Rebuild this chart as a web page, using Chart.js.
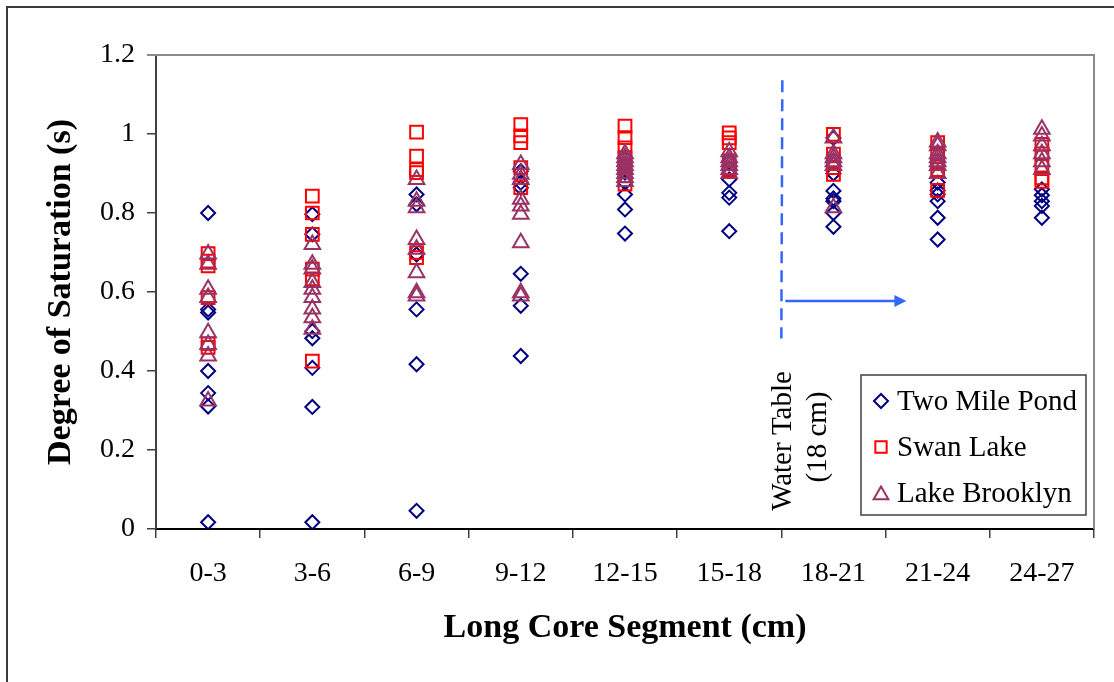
<!DOCTYPE html>
<html>
<head>
<meta charset="utf-8">
<title>Degree of Saturation by Long Core Segment</title>
<script src="https://cdn.jsdelivr.net/npm/chart.js@4.4.1/dist/chart.umd.min.js"></script>
<style>
  html, body { margin: 0; padding: 0; background: #fff; }
  #wrap { width: 1114px; height: 682px; position: relative; }
</style>
</head>
<body>
<div id="wrap"><canvas id="satChart" width="1114" height="682"></canvas></div>
<script>
const segments = ["0-3", "3-6", "6-9", "9-12", "12-15", "15-18", "18-21", "21-24", "24-27"];

// saturation readings per segment, one inner list per core segment
const twoMilePond = [
  [0.80, 0.556, 0.548, 0.40, 0.344, 0.31, 0.017],
  [0.797, 0.746, 0.501, 0.483, 0.408, 0.309, 0.017],
  [0.847, 0.822, 0.695, 0.556, 0.417, 0.046],
  [0.906, 0.877, 0.864, 0.646, 0.565, 0.438],
  [0.94, 0.92, 0.902, 0.877, 0.847, 0.809, 0.748],
  [0.93, 0.885, 0.851, 0.839, 0.754],
  [0.99, 0.90, 0.856, 0.837, 0.83, 0.80, 0.765],
  [0.877, 0.857, 0.847, 0.83, 0.788, 0.733],
  [0.86, 0.845, 0.83, 0.818, 0.788]
];
const swanLake = [
  [0.697, 0.678, 0.666, 0.586, 0.469, 0.46],
  [0.843, 0.80, 0.746, 0.658, 0.633, 0.425],
  [1.005, 0.944, 0.91, 0.902, 0.70, 0.687],
  [1.024, 0.995, 0.978, 0.915, 0.864],
  [1.02, 0.991, 0.965, 0.94, 0.919, 0.894, 0.873],
  [1.003, 0.99, 0.978, 0.932, 0.91],
  [0.999, 0.949, 0.93, 0.915, 0.898],
  [0.978, 0.95, 0.93, 0.91, 0.857],
  [0.974, 0.95, 0.92, 0.889, 0.88]
];
const lakeBrooklyn = [
  [0.696, 0.67, 0.607, 0.586, 0.497, 0.467, 0.438, 0.324],
  [0.72, 0.67, 0.658, 0.624, 0.607, 0.586, 0.557, 0.535, 0.506],
  [0.885, 0.83, 0.813, 0.733, 0.708, 0.649, 0.598, 0.59],
  [0.923, 0.898, 0.885, 0.835, 0.818, 0.797, 0.725, 0.598, 0.59],
  [0.95, 0.94, 0.93, 0.92, 0.91, 0.90, 0.89, 0.88],
  [0.955, 0.94, 0.93, 0.92, 0.91, 0.90],
  [0.99, 0.95, 0.94, 0.93, 0.92, 0.813],
  [0.98, 0.97, 0.95, 0.94, 0.93, 0.92, 0.90],
  [1.012, 0.995, 0.97, 0.95, 0.93, 0.91]
];
const yTicks = [0, 0.2, 0.4, 0.6, 0.8, 1, 1.2];

// water table sits at the 18 cm boundary, between 15-18 and 18-21
const waterTableIndex = 5.5;

const serif = "'Liberation Serif', 'Times New Roman', serif";

function toPoints(lists) {
  const pts = [];
  lists.forEach((vals, i) => {
    vals.forEach(v => pts.push({ x: segments[i], y: v }));
  });
  return pts;
}

const series = [
  { label: "Two Mile Pond", data: twoMilePond, style: "rectRot", radius: 7, keyRadius: 7, color: "#000080", order: 3 },
  { label: "Swan Lake", data: swanLake, style: "rect", radius: 9, keyRadius: 8, color: "#ff0000", order: 2 },
  { label: "Lake Brooklyn", data: lakeBrooklyn, style: "triangle", radius: 9, keyRadius: 8.5, color: "#993366", order: 1 }
];

const frame = {
  id: "frame",
  beforeDraw(chart) {
    const ctx = chart.ctx;
    ctx.save();
    ctx.fillStyle = "#fff";
    ctx.fillRect(0, 0, chart.width, chart.height);
    ctx.strokeStyle = "#3a3a3a";
    ctx.lineWidth = 2;
    ctx.strokeRect(7, 7, 1200, 1000);
    ctx.restore();
  },
  afterDraw(chart) {
    const ctx = chart.ctx;
    const a = chart.chartArea;
    const xs = chart.scales.x;
    const ys = chart.scales.y;
    ctx.save();

    // top and right edges of the plot box
    ctx.strokeStyle = "#8a8a8a";
    ctx.lineWidth = 2;
    ctx.beginPath();
    ctx.moveTo(a.left - 9, a.top);
    ctx.lineTo(a.right, a.top);
    ctx.lineTo(a.right, a.bottom);
    ctx.stroke();

    // dashed water table marker
    const wx = xs.getPixelForValue(waterTableIndex);
    ctx.strokeStyle = "#3366ff";
    ctx.lineWidth = 2.5;
    ctx.setLineDash([12, 7]);
    ctx.beginPath();
    ctx.moveTo(wx + 1, ys.getPixelForValue(1.136));
    ctx.lineTo(wx, ys.getPixelForValue(0.482));
    ctx.stroke();
    ctx.setLineDash([]);

    // arrow pointing into the saturated zone
    const ay = ys.getPixelForValue(0.577);
    const ax0 = wx + 4;
    const ax1 = xs.getPixelForValue(6.7);
    ctx.lineWidth = 2.5;
    ctx.beginPath();
    ctx.moveTo(ax0, ay);
    ctx.lineTo(ax1 - 10, ay);
    ctx.stroke();
    ctx.fillStyle = "#3366ff";
    ctx.beginPath();
    ctx.moveTo(ax1, ay);
    ctx.lineTo(ax1 - 12, ay - 6);
    ctx.lineTo(ax1 - 12, ay + 6);
    ctx.closePath();
    ctx.fill();

    // rotated label beside the marker
    ctx.fillStyle = "#000";
    ctx.font = "29px " + serif;
    ctx.textAlign = "center";
    ctx.textBaseline = "alphabetic";
    ctx.save();
    ctx.translate(wx + 10, 441);
    ctx.rotate(-Math.PI / 2);
    ctx.fillText("Water Table", 0, 0);
    ctx.fillText("(18 cm)", 4, 35);
    ctx.restore();

    // legend box
    const lx = 861, ly = 375, lw = 225, lh = 140;
    ctx.fillStyle = "#fff";
    ctx.fillRect(lx, ly, lw, lh);
    ctx.strokeStyle = "#404040";
    ctx.lineWidth = 1.5;
    ctx.strokeRect(lx, ly, lw, lh);
    const rows = [401, 447, 493];
    series.forEach((s, i) => {
      ctx.strokeStyle = s.color;
      ctx.fillStyle = "transparent";
      ctx.lineWidth = 2;
      Chart.helpers.drawPoint(ctx, { pointStyle: s.style, radius: s.keyRadius, borderWidth: 2, rotation: 0 }, 881, rows[i] + (s.style === "triangle" ? 2 : 0));
      ctx.fillStyle = "#000";
      ctx.font = "29px " + serif;
      ctx.textAlign = "left";
      ctx.textBaseline = "middle";
      ctx.fillText(s.label, 897, rows[i] + 1);
    });
    ctx.restore();
  }
};

new Chart(document.getElementById("satChart"), {
  type: "scatter",
  data: {
    labels: segments,
    datasets: series.map(s => ({
      label: s.label,
      data: toPoints(s.data),
      pointStyle: s.style,
      pointRadius: s.radius,
      pointHoverRadius: s.radius,
      pointBorderWidth: 2,
      pointBorderColor: s.color,
      pointBackgroundColor: "transparent",
      order: s.order
    }))
  },
  options: {
    responsive: false,
    animation: false,
    layout: { padding: { top: 55, right: 20, bottom: 0, left: 0 } },
    plugins: {
      legend: { display: false },
      tooltip: { enabled: false }
    },
    scales: {
      x: {
        type: "category",
        labels: segments,
        offset: true,
        afterFit(scale) { scale.height = 153; },
        grid: {
          offset: true,
          drawOnChartArea: false,
          drawTicks: true,
          tickLength: 9,
          color: "#404040",
          lineWidth: 1.5
        },
        border: { display: true, color: "#000", width: 2 },
        ticks: {
          color: "#000",
          padding: 19,
          maxRotation: 0,
          font: { family: serif, size: 28 }
        },
        title: {
          display: true,
          text: "Long Core Segment (cm)",
          color: "#000",
          font: { family: serif, size: 34, weight: "bold" },
          padding: { top: 0, bottom: 33 }
        }
      },
      y: {
        min: 0,
        max: 1.2,
        afterFit(scale) { scale.width = 156; },
        afterBuildTicks(scale) { scale.ticks = yTicks.map(v => ({ value: v })); },
        grid: {
          drawOnChartArea: false,
          drawTicks: true,
          tickLength: 9,
          color: "#404040",
          lineWidth: 1.5
        },
        border: { display: true, color: "#404040", width: 2 },
        ticks: {
          color: "#000",
          padding: 12,
          font: { family: serif, size: 28 },
          callback: v => String(Math.round(v * 10) / 10)
        },
        title: {
          display: true,
          text: "Degree of Saturation (s)",
          color: "#000",
          font: { family: serif, size: 34, weight: "bold" },
          padding: { top: 41, bottom: 0 }
        }
      }
    }
  },
  plugins: [frame]
});
</script>
</body>
</html>
